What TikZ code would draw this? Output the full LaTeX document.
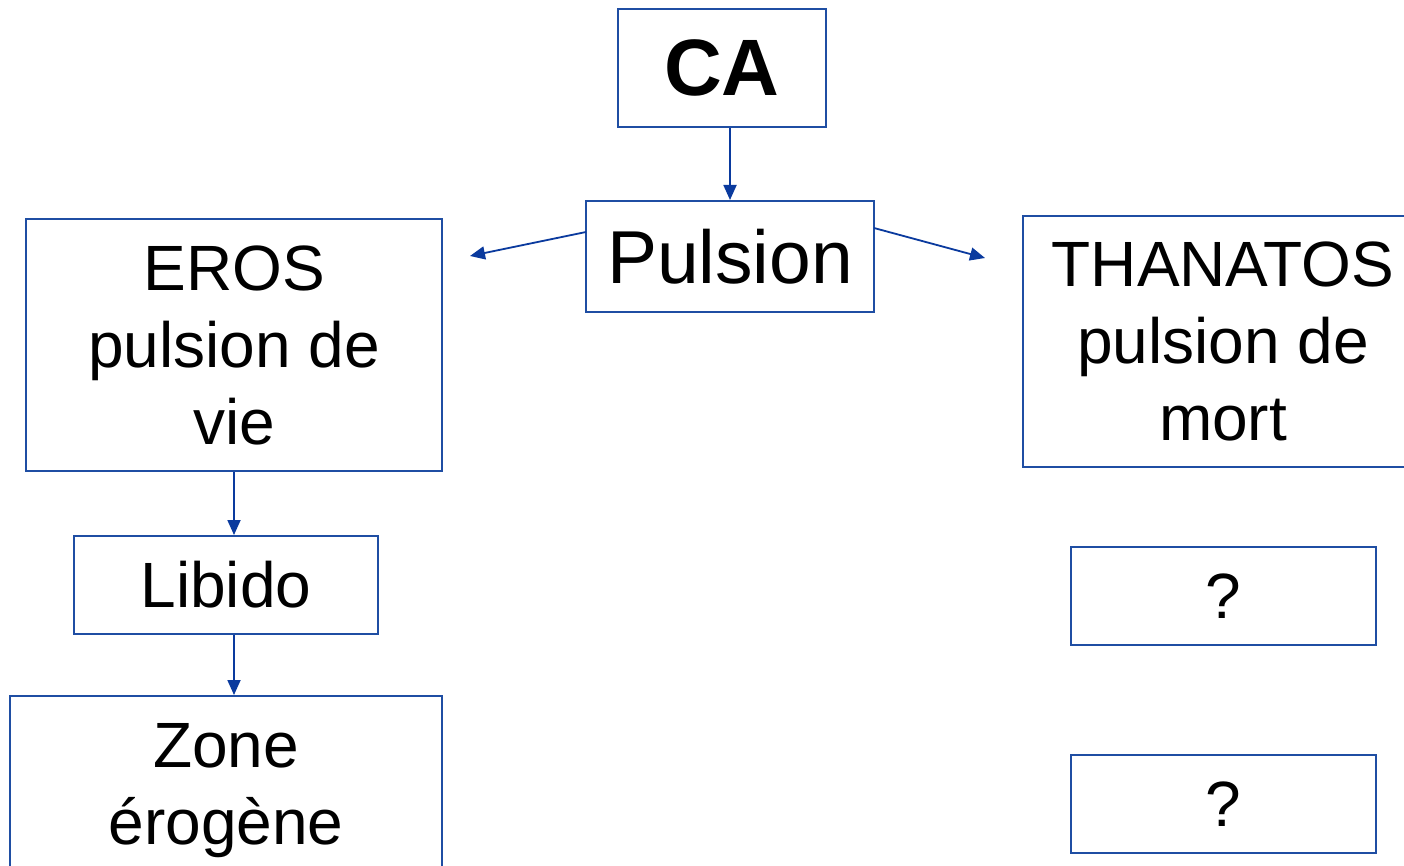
\documentclass[tikz,border=0pt]{standalone}
\usepackage{fontspec}
\setmainfont{Liberation Sans}
\usetikzlibrary{arrows.meta}
\definecolor{boxblue}{HTML}{1F4EA3}
\definecolor{arrowblue}{HTML}{0A3A9E}
\tikzset{
  box/.style={draw=boxblue, line width=2pt, rectangle, inner sep=0pt, align=center, text=black},
  conn/.style={draw=arrowblue, line width=1.8pt, -{Triangle[length=15pt,width=13pt]}},
  big/.style={font=\fontsize{64}{77}\selectfont},
}
\begin{document}
\begin{tikzpicture}[x=1pt,y=-1pt]
\useasboundingbox (0,0) rectangle (1404,866);
\clip (0,0) rectangle (1404,866);
\fill[white] (0,0) rectangle (1404,866);
% nodes
\node[box, minimum width=208, minimum height=118, font=\fontsize{80}{90}\selectfont\bfseries] (ca) at (722,68) {CA};
\node[box, minimum width=288, minimum height=111, font=\fontsize{75}{90}\selectfont] (pulsion) at (730,256.5) {Pulsion};
\node[box, big, minimum width=416, minimum height=252] (eros) at (234,345) {EROS\\pulsion de\\vie};
\node[box, big, minimum width=400, minimum height=251] (thanatos) at (1223,341.5) {THANATOS\\pulsion de\\mort};
\node[box, big, minimum width=304, minimum height=98] (libido) at (226,585) {Libido};
\node[box, big, minimum width=432, minimum height=190] (zone) at (226,791) {Zone\\érogène};
\node[box, big, minimum width=305, minimum height=98] (q1) at (1223.5,596) {?};
\node[box, big, minimum width=305, minimum height=98] (q2) at (1223.5,804) {?};
% free ends
\coordinate (pl) at (586,232);
\coordinate (le) at (470,256);
\coordinate (pr) at (874,228);
\coordinate (re) at (985,258);
% connectors
\draw[conn] (ca.south -| pulsion.north) -- (pulsion.north);
\draw[conn] (pl) -- (le);
\draw[conn] (pr) -- (re);
\draw[conn] (eros.south) -- (libido.north -| eros.south);
\draw[conn] (libido.south -| eros.south) -- (zone.north -| eros.south);
\end{tikzpicture}
\end{document}
